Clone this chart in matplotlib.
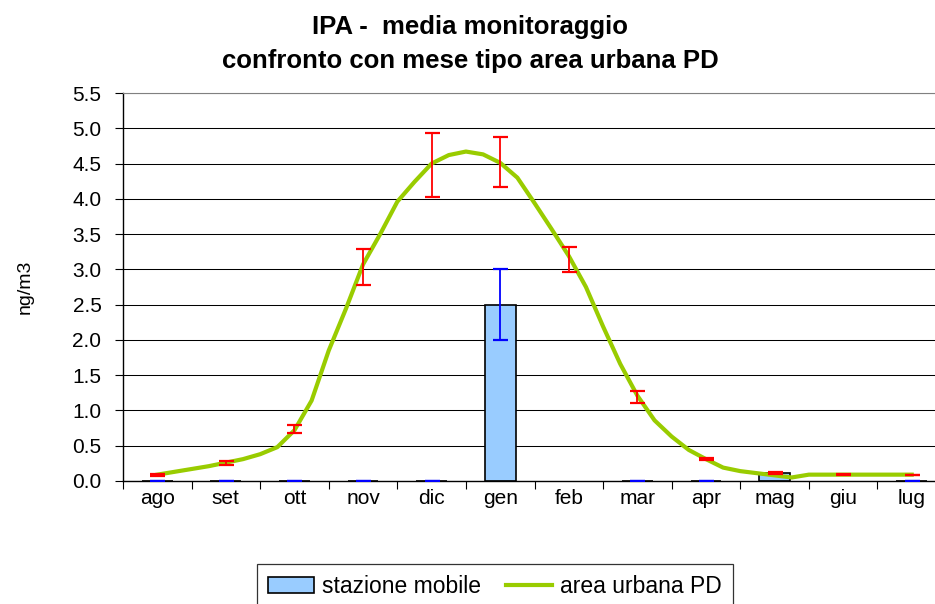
import numpy as np
import matplotlib
matplotlib.use("Agg")
import matplotlib.pyplot as plt
from matplotlib.patches import Patch
from matplotlib.lines import Line2D

plt.rcParams['font.family'] = ['Liberation Sans', 'DejaVu Sans']

# mesi (categorie)
mesi = ['ago', 'set', 'ott', 'nov', 'dic', 'gen', 'feb', 'mar', 'apr', 'mag', 'giu', 'lug']

# stazione mobile: media mensile e deviazione
stazione_mobile = [0, 0, 0, 0, 0, 2.5, np.nan, 0, 0, 0.12, np.nan, 0]
err_stazione = [0, 0, 0, 0, 0, 0.5, 0, 0, 0, 0, 0, 0]

# mese tipo area urbana PD (valori mensili + barre d'errore)
area_mese = [0.085, 0.255, 0.74, 3.03, 4.48, 4.52, 3.14, 1.19, 0.31, 0.115, 0.09, 0.085]
err_area = [0.01, 0.03, 0.057, 0.255, 0.45, 0.355, 0.18, 0.083, 0.012, 0.01, 0.006, 0.006]

# curva area urbana PD, un punto ogni quarto di mese da ago a lug
area_urbana = [0.09, 0.13, 0.17, 0.21, 0.26, 0.31, 0.38, 0.48,
               0.72, 1.14, 1.85, 2.44, 3.07, 3.50, 3.96, 4.24,
               4.50, 4.62, 4.67, 4.63, 4.51, 4.30, 3.94, 3.57,
               3.19, 2.75, 2.19, 1.66, 1.21, 0.86, 0.63, 0.44,
               0.31, 0.19, 0.14, 0.11, 0.08, 0.05, 0.09, 0.09,
               0.09, 0.09, 0.09, 0.09, 0.09]

x = np.arange(len(mesi))
x_curva = np.linspace(0, len(mesi) - 1, len(area_urbana))

fig = plt.figure(figsize=(9.35, 6.04), dpi=100)
ax = fig.add_axes([123 / 935, 123 / 604, 823 / 935, 388 / 604])

# griglia orizzontale
ax.set_axisbelow(True)
ax.grid(True, axis='y', color='black', linewidth=0.75)

ax.bar(x, stazione_mobile, width=0.45, color='#99CCFF', edgecolor='black',
       linewidth=1.2, zorder=2)
ax.plot(x_curva, area_urbana, color='#99CC00', linewidth=3, zorder=3,
        solid_joinstyle='round')
ax.errorbar(x, stazione_mobile, yerr=err_stazione, fmt='none', ecolor='blue',
            elinewidth=1.3, capsize=5.4, capthick=1.6, zorder=4)
ax.errorbar(x, area_mese, yerr=err_area, fmt='none', ecolor='red',
            elinewidth=1.3, capsize=5.4, capthick=1.6, zorder=5)

ax.set_xlim(-0.5, len(mesi) - 0.5)
ax.set_ylim(0, 5.5)
ax.set_yticks(np.arange(0, 5.51, 0.5))
ax.set_yticklabels([f'{v:.1f}' for v in np.arange(0, 5.51, 0.5)], fontsize=15)

ax.set_xticks(np.arange(-0.5, len(mesi), 1))
ax.set_xticklabels([])
ax.set_xticks(x, minor=True)
ax.set_xticklabels(mesi, minor=True, fontsize=15)
ax.tick_params(axis='x', which='major', length=5.5, width=0.8, direction='out')
ax.tick_params(axis='x', which='minor', length=0, pad=6)
ax.tick_params(axis='y', length=5.5, width=0.8, direction='out', pad=10)

for s in ['top', 'right']:
    ax.spines[s].set_color('#808080')
ax.spines['left'].set_linewidth(1)
ax.spines['bottom'].set_linewidth(1)

fig.text(25 / 935, 1 - 287 / 604, 'ng/m3', rotation=90, ha='center',
         va='center', fontsize=14)

fig.text(470 / 935, 1 - 27 / 604, 'IPA -  media monitoraggio', ha='center',
         va='center', fontsize=18.5, fontweight='bold')
fig.text(470 / 935, 1 - 61 / 604, 'confronto con mese tipo area urbana PD',
         ha='center', va='center', fontsize=18.5, fontweight='bold')

handles = [Patch(facecolor='#99CCFF', edgecolor='black', linewidth=1.2),
           Line2D([0], [0], color='#99CC00', linewidth=3)]
leg = fig.legend(handles, ['stazione mobile', 'area urbana PD'], ncol=2,
                 loc='upper center', bbox_to_anchor=(495 / 935, 1 - 564 / 604),
                 fontsize=16.5, frameon=True, fancybox=False, edgecolor='black',
                 handlelength=2.0, handletextpad=0.35, columnspacing=1.1,
                 borderpad=0.5, borderaxespad=0)
leg.get_frame().set_linewidth(0.9)

fig.savefig('out.png', dpi=100)
